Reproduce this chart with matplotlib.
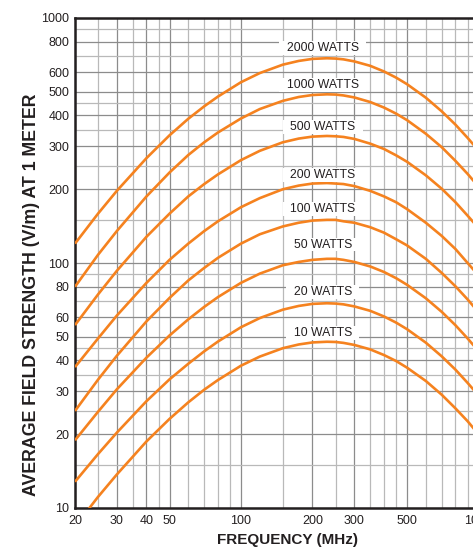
import matplotlib
matplotlib.use("Agg")
import matplotlib.pyplot as plt
from matplotlib.path import Path
from matplotlib.ticker import FixedLocator, NullFormatter

plt.rcParams['font.family'] = ['Liberation Sans', 'DejaVu Sans']

# Frequency points (MHz)
freq = [20, 25, 30, 40, 50, 60, 70, 80, 100, 120, 150, 175, 200, 230, 250, 270, 300, 350, 400, 450, 500, 600, 700, 800, 900, 1000]

# Field strength (V/m) for each transmitter power
w2000 = [120, 159, 197, 268, 332, 388, 436, 478, 547, 596, 645, 668, 681, 685, 683, 678, 665, 638, 605, 571, 537, 473, 416, 367, 324, 288]
w1000 = [80.0, 108, 135, 187, 234, 276, 311, 341, 389, 425, 459, 476, 485, 488, 487, 483, 474, 454, 431, 407, 383, 337, 297, 261, 231, 205]
w500 = [55.8, 74.4, 92.9, 128, 159, 187, 210, 230, 263, 287, 311, 322, 328, 330, 329, 327, 321, 307, 292, 275, 259, 228, 201, 177, 156, 139]
w200 = [37.6, 49.2, 61.0, 83.0, 103, 120, 135, 148, 169, 184, 200, 207, 211, 212, 211, 210, 206, 197, 187, 177, 166, 146, 129, 114, 100, 89.0]
w100 = [24.9, 33.4, 41.8, 57.8, 72.0, 84.9, 95.5, 105, 120, 131, 141, 146, 149, 150, 150, 148, 146, 140, 133, 125, 118, 104, 91.1, 80.3, 71.0, 63.0]
w50 = [18.9, 24.7, 30.5, 41.1, 50.6, 58.9, 66.2, 72.6, 83.0, 90.5, 97.9, 101, 103, 104, 104, 103, 101, 96.8, 91.9, 86.7, 81.5, 71.8, 63.2, 55.7, 49.2, 43.7]
w20 = [12.8, 16.6, 20.3, 27.3, 33.5, 38.8, 43.6, 47.8, 54.7, 59.6, 64.5, 66.8, 68.1, 68.5, 68.3, 67.8, 66.5, 63.8, 60.5, 57.1, 53.7, 47.3, 41.6, 36.7, 32.4, 28.8]
w10 = [8.39, 11.1, 13.7, 18.7, 23.1, 27.0, 30.4, 33.3, 38.1, 41.5, 44.9, 46.5, 47.4, 47.7, 47.6, 47.2, 46.3, 44.4, 42.1, 39.8, 37.4, 33.0, 29.0, 25.5, 22.6, 20.0]

series = [w2000, w1000, w500, w200, w100, w50, w20, w10]
labels = ["2000 WATTS", "1000 WATTS", "500 WATTS", "200 WATTS",
          "100 WATTS", "50 WATTS", "20 WATTS", "10 WATTS"]
label_offsets = [7.2, 6.7, 6.7, 5.5, 7.7, 10.3, 7.9, 6.0]  # points above peak

x_major = [20, 30, 40, 50, 100, 200, 300, 500, 1000]
x_minor = [25, 35, 45, 60, 70, 80, 90, 150, 250, 350, 400, 450, 600, 700, 800, 900]
y_major = [10, 20, 30, 40, 50, 60, 80, 100, 200, 300, 400, 500, 600, 800, 1000]
y_minor = [15, 25, 35, 45, 70, 90, 150, 250, 350, 450, 700, 900]

orange = "#f5821f"
txt = "#231f20"


def label_box(x0, y0, width, height, mutation_size):
    # wide, flat white box behind the curve labels
    px = 0.6 * mutation_size
    py = 0.08 * mutation_size
    x0, y0 = x0 - px, y0 - py
    x1, y1 = x0 + width + 2 * px, y0 + height + 2 * py
    return Path([(x0, y0), (x1, y0), (x1, y1), (x0, y1), (x0, y0)], closed=True)


fig = plt.figure(figsize=(4.73, 5.5), dpi=100)
ax = fig.add_axes([75 / 473, 42 / 550, 403.5 / 473, 490 / 550])
ax.set_xscale("log")
ax.set_yscale("log")
ax.set_xlim(20, 1000)
ax.set_ylim(10, 1000)

ax.xaxis.set_major_locator(FixedLocator(x_major))
ax.xaxis.set_minor_locator(FixedLocator(x_minor))
ax.yaxis.set_major_locator(FixedLocator(y_major))
ax.yaxis.set_minor_locator(FixedLocator(y_minor))
ax.set_xticklabels([str(v) for v in x_major])
ax.set_yticklabels([str(v) for v in y_major])
ax.xaxis.set_minor_formatter(NullFormatter())
ax.yaxis.set_minor_formatter(NullFormatter())
ax.tick_params(which="both", length=0, labelsize=9, labelcolor=txt)
ax.tick_params(axis="x", pad=5)
ax.tick_params(axis="y", pad=4)

ax.grid(which="major", color="#8c8c8c", lw=0.9, zorder=1)
ax.grid(which="minor", color="#b9b9b9", lw=0.9, zorder=1)
ax.set_axisbelow(True)

for sp in ax.spines.values():
    sp.set_color("#231f20")
    sp.set_linewidth(1.8)

for vals, lab, off in zip(series, labels, label_offsets):
    ax.plot(freq, vals, color=orange, lw=1.9, zorder=3, solid_capstyle="butt")
    peak = max(vals)
    f_peak = freq[vals.index(peak)]
    ax.annotate(lab, xy=(f_peak, peak), xytext=(-3, off), textcoords="offset points",
                ha="center", va="center", fontsize=8.8, color=txt, zorder=4,
                bbox=dict(boxstyle=label_box, fc="white", ec="none"))

fig.text(287 / 473, 1 - 540 / 550, "FREQUENCY (MHz)", ha="center", va="center",
         fontsize=11, fontweight="bold", color=txt)
fig.text(32 / 473, 1 - 295 / 550, "AVERAGE FIELD STRENGTH (V/m) AT 1 METER", ha="center",
         va="center", rotation=90, fontsize=12.8, fontweight="bold", color=txt)

fig.savefig("out.png", dpi=100)
